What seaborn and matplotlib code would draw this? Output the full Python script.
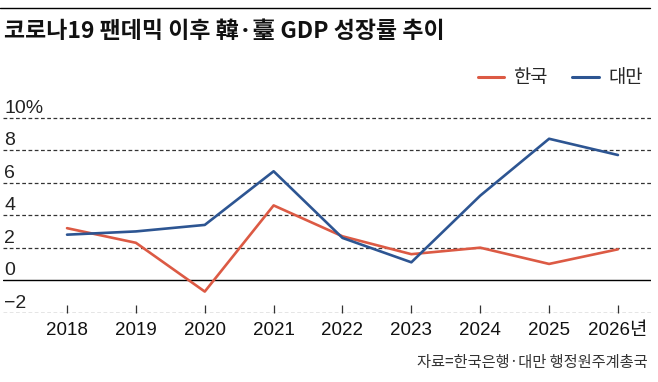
import matplotlib
matplotlib.use("Agg")
import matplotlib.pyplot as plt
import matplotlib.transforms as mtransforms
from matplotlib.lines import Line2D
import numpy as np
import pandas as pd
import seaborn as sns

# --- data ---
years = [2018, 2019, 2020, 2021, 2022, 2023, 2024, 2025, 2026]
korea = [3.2, 2.3, -0.7, 4.6, 2.7, 1.6, 2.0, 1.0, 1.9]
taiwan = [2.8, 3.0, 3.4, 6.7, 2.6, 1.1, 5.2, 8.7, 7.7]
series_names = ["한국", "대만"]
year_labels = ["2018", "2019", "2020", "2021", "2022", "2023", "2024", "2025", "2026년"]
y_ticks = [-2, 0, 2, 4, 6, 8, 10]
y_labels = ["−2", "0", "2", "4", "6", "8", "10%"]

title = "코로나19 팬데믹 이후 韓·臺 GDP 성장률 추이"
source = "자료=한국은행·대만 행정원주계총국"

RED = "#dc5a44"
BLUE = "#2d5592"
KR = ["Noto Sans CJK KR", "DejaVu Sans"]
NUM = ["Liberation Sans", "Noto Sans CJK KR", "DejaVu Sans"]

df = pd.DataFrame({
    "year": years * 2,
    "gdp": korea + taiwan,
    "country": [series_names[0]] * len(years) + [series_names[1]] * len(years),
})

sns.set_style("white")
plt.rcParams["font.family"] = KR

W, H = 658, 382
fig = plt.figure(figsize=(W / 100, H / 100), dpi=100)
ax = fig.add_axes([3 / W, 1 - 312.7 / H, 648 / W, (312.7 - 109.5) / H])

sns.lineplot(data=df, x="year", y="gdp", hue="country",
             palette={series_names[0]: RED, series_names[1]: BLUE},
             linewidth=1.9, ax=ax, legend=False)

ax.set_xlim(2017.07, 2026.48)
ax.set_ylim(-2, 10.5)

# gridlines
for v in y_ticks:
    if v == 0:
        ax.axhline(v, color="black", linewidth=1.0, zorder=1)
    else:
        ax.axhline(v, color="#333333", linewidth=0.9, linestyle=(0, (3, 2)), zorder=1)

for s in ax.spines.values():
    s.set_visible(False)

ax.set_yticks([])
ax.set_xticks(years)
ax.set_xticklabels(year_labels, fontfamily=NUM, fontsize=13.5, color="#111111")
ax.tick_params(axis="x", direction="in", length=6, width=0.9, color="#333333",
               pad=7, bottom=True)
ax.set_xlabel("")
ax.set_ylabel("")

# y labels sit above their gridlines, inside the plot
trans = mtransforms.blended_transform_factory(ax.transAxes, ax.transData)
for v, lab in zip(y_ticks, y_labels):
    ax.annotate(lab, xy=(0.002, v), xycoords=trans, xytext=(0, 3.5),
                textcoords="offset points", ha="left", va="baseline",
                fontsize=14, fontfamily=NUM, color="#222222")

# legend
handles = [Line2D([0], [0], color=RED, linewidth=2.2),
           Line2D([0], [0], color=BLUE, linewidth=2.2)]
ax.legend(handles, series_names, ncol=2, frameon=False, loc="center right",
          bbox_to_anchor=(650 / W, 1 - 78 / H), bbox_transform=fig.transFigure,
          handlelength=1.4, handletextpad=0.5, columnspacing=1.3,
          borderaxespad=0, prop={"family": KR, "size": 13.5})

# title, top rule, source
fig.add_artist(Line2D([0, 650 / W], [1 - 8 / H, 1 - 8 / H],
                      color="black", linewidth=1.0, transform=fig.transFigure))
fig.text(4 / W, 1 - 31 / H, title, ha="left", va="center",
         fontsize=16.5, fontweight="bold", fontfamily=KR, color="#111111")
fig.text(648 / W, 1 - 363 / H, source, ha="right", va="center",
         fontsize=11, fontfamily=KR, color="#333333")

fig.savefig("out.png", dpi=100)
